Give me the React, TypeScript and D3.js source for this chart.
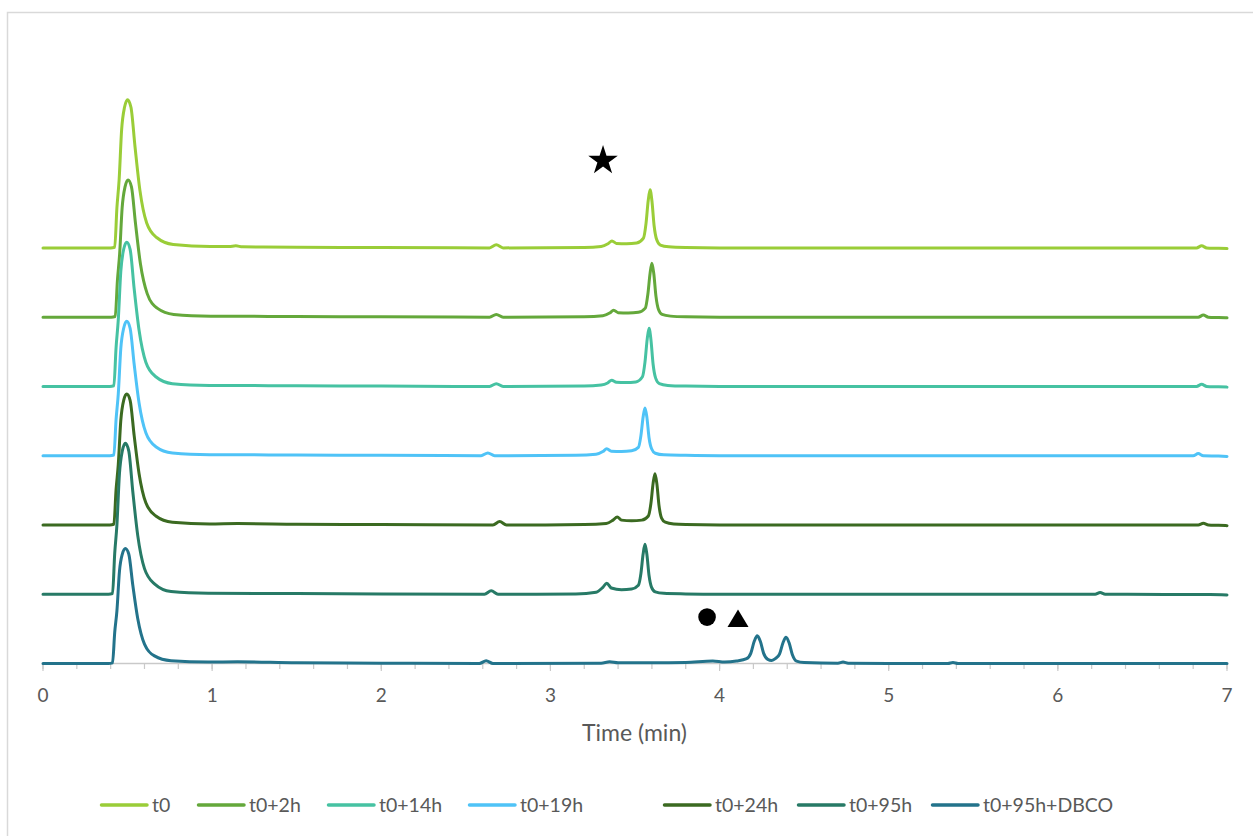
import React from 'react';
import * as d3 from 'd3';

// ---------- data (time in min, signal in arbitrary units above each trace's baseline) ----------
const seriesNames = ['t0', 't0+2h', 't0+14h', 't0+19h', 't0+24h', 't0+95h', 't0+95h+DBCO'];
const seriesColors = ['#9acd38', '#64a83b', '#46c2a2', '#4fc3f7', '#3b6a21', '#277a66', '#23738b'];
const seriesOffsets = [600, 500, 400, 300, 200, 100, 0];

const trace_t0: [number, number][] = [
  [0, 0], [0.2, 0], [0.4, 0], [0.424, 1], [0.437, 58], [0.45, 98], [0.465, 171], [0.482, 203], [0.5, 214],
  [0.52, 203], [0.544, 146], [0.573, 83], [0.613, 36], [0.672, 15], [0.77, 5], [0.99, 2], [1.1, 2], [1.14, 3],
  [1.18, 1.5], [1.5, 1], [2.0, 0.5], [2.64, 0], [2.68, 4.5], [2.72, 0], [3.2, 0.5], [3.3, 2], [3.34, 6],
  [3.364, 10], [3.39, 6.5], [3.45, 6], [3.51, 7], [3.55, 14], [3.565, 35], [3.578, 68], [3.589, 84],
  [3.6, 68], [3.613, 32], [3.628, 12], [3.65, 4], [3.7, 1.5], [3.8, 0.5], [4.0, 0], [5.0, 0], [6.0, 0],
  [6.82, 0], [6.85, 3], [6.88, 0], [6.95, -0.5], [7.0, -1],
];
const trace_t2h: [number, number][] = [
  [0, 0], [0.2, 0], [0.403, 0], [0.427, 1], [0.44, 53], [0.453, 91], [0.468, 158], [0.485, 188], [0.503, 198],
  [0.523, 188], [0.547, 135], [0.576, 77], [0.616, 34], [0.675, 13], [0.773, 4], [0.993, 1.5], [1.5, 1],
  [2.0, 0.5], [2.64, 0], [2.68, 4], [2.72, 0], [3.2, 0.5], [3.31, 2], [3.35, 6], [3.374, 10], [3.4, 6.5],
  [3.46, 6], [3.52, 7], [3.561, 13], [3.576, 33], [3.589, 63], [3.6, 78], [3.611, 63], [3.624, 30],
  [3.639, 11], [3.66, 4], [3.71, 1.5], [3.8, 0.5], [4.0, 0], [6.83, 0], [6.86, 3], [6.89, 0], [6.95, -0.5],
  [7.0, -1],
];
const trace_t14h: [number, number][] = [
  [0, 0], [0.2, 0], [0.395, 0], [0.419, 1], [0.432, 56], [0.445, 96], [0.46, 166], [0.477, 198], [0.495, 208],
  [0.515, 198], [0.539, 141], [0.568, 81], [0.608, 35], [0.667, 14], [0.765, 4], [0.985, 1.5], [1.5, 1],
  [2.0, 0.5], [2.64, 0], [2.68, 4], [2.72, 0], [3.2, 0.5], [3.3, 2], [3.338, 5], [3.362, 9], [3.39, 6],
  [3.445, 5.5], [3.505, 6.5], [3.544, 14], [3.559, 35], [3.572, 68], [3.583, 84], [3.594, 68], [3.607, 32],
  [3.622, 12], [3.644, 4], [3.694, 1.5], [3.8, 0.5], [4.0, 0], [6.82, 0], [6.85, 3], [6.88, 0], [6.95, -0.5],
  [7.0, -1],
];
const trace_t19h: [number, number][] = [
  [0, 0], [0.2, 0], [0.395, 0], [0.419, 1], [0.432, 52], [0.445, 89], [0.46, 155], [0.477, 184], [0.495, 194],
  [0.515, 184], [0.539, 132], [0.568, 76], [0.608, 33], [0.667, 13], [0.765, 4], [0.985, 1.5], [1.5, 1],
  [2.0, 0.5], [2.59, 0], [2.63, 4], [2.67, 0], [3.15, 0.5], [3.27, 2], [3.31, 6], [3.333, 10], [3.36, 6.5],
  [3.42, 6], [3.48, 7], [3.52, 12], [3.535, 29], [3.548, 56], [3.559, 69], [3.57, 56], [3.583, 26],
  [3.598, 10], [3.62, 3.5], [3.67, 1.2], [3.8, 0.5], [4.0, 0], [6.8, 0], [6.83, 3], [6.86, 0], [6.95, -0.5],
  [7.0, -1],
];
const trace_t24h: [number, number][] = [
  [0, 0], [0.2, 0], [0.395, 0], [0.419, 1], [0.432, 51], [0.445, 87], [0.46, 151], [0.477, 180], [0.495, 189],
  [0.515, 180], [0.539, 129], [0.568, 74], [0.608, 32], [0.667, 13], [0.765, 4], [0.985, 1.5], [1.15, 2],
  [1.5, 1], [2.0, 0.5], [2.66, 0], [2.7, 5], [2.74, 0], [3.2, 0.5], [3.33, 2], [3.37, 7], [3.395, 11.5],
  [3.42, 7], [3.48, 6], [3.54, 7], [3.579, 13], [3.594, 31], [3.607, 60], [3.618, 74], [3.629, 60],
  [3.642, 28], [3.657, 10], [3.679, 4], [3.729, 1.3], [3.8, 0.5], [4.0, 0], [6.83, 0], [6.86, 2.5], [6.89, 0],
  [6.95, -0.5], [7.0, -1],
];
const trace_t95h: [number, number][] = [
  [0, 0], [0.2, 0], [0.387, 0], [0.411, 1], [0.424, 59], [0.437, 100], [0.452, 174], [0.469, 207], [0.487, 218],
  [0.507, 207], [0.531, 148], [0.56, 85], [0.6, 37], [0.659, 15], [0.757, 4], [0.977, 1.5], [1.5, 1],
  [2.0, 0.5], [2.61, 0], [2.65, 5], [2.69, 0], [3.15, 0.5], [3.27, 3], [3.31, 10], [3.333, 16], [3.36, 9],
  [3.42, 6.5], [3.48, 7.5], [3.52, 13], [3.535, 30], [3.548, 58], [3.559, 72], [3.57, 58], [3.583, 27],
  [3.598, 10], [3.62, 3.5], [3.67, 1.3], [3.8, 0.5], [4.0, 0], [6.22, 0], [6.25, 2.5], [6.28, 0],
  [6.9, -0.5], [7.0, -1],
];
const trace_t95hDBCO: [number, number][] = [
  [0, 0], [0.2, 0], [0.387, 0], [0.411, 1], [0.424, 45], [0.437, 76], [0.452, 133], [0.469, 158], [0.487, 166],
  [0.507, 158], [0.531, 113], [0.56, 65], [0.6, 28], [0.659, 11], [0.757, 4], [0.977, 2], [1.15, 2.5],
  [1.5, 1], [2.0, 0.5], [2.58, 0], [2.62, 4], [2.66, 0], [3.3, 0.5], [3.35, 2.5], [3.4, 1], [3.6, 1],
  [3.8, 1.5], [3.96, 3.5], [4.03, 2], [4.1, 3.5], [4.16, 7], [4.185, 15], [4.205, 32], [4.223, 40],
  [4.241, 32], [4.26, 15], [4.285, 6], [4.308, 4.5], [4.33, 7], [4.355, 14], [4.375, 30], [4.393, 38],
  [4.411, 30], [4.43, 13], [4.455, 3.5], [4.5, 1.5], [4.7, 0.5], [4.73, 2], [4.76, 0.5], [5.0, 0],
  [5.35, 0], [5.38, 1.5], [5.41, 0], [7.0, 0],
];
const seriesData = [trace_t0, trace_t2h, trace_t14h, trace_t19h, trace_t24h, trace_t95h, trace_t95hDBCO];

const xMajorTicks = [0, 1, 2, 3, 4, 5, 6, 7];
const xMinorTicks = d3.range(0, 35.5, 1).map((i) => i / 5);
const xTitle = 'Time (min)';

// annotation symbols (time, signal)
const starMark: [number, number] = [3.311, 726];
const circleMark: [number, number] = [3.926, 67];
const triangleMark: [number, number] = [4.109, 65];

// ---------- layout ----------
const W = 1253;
const H = 836;
const FONT = 'Lato, "Open Sans", sans-serif';
const TEXT = '#595959';

export default function App() {
  const x = d3.scaleLinear().domain([0, 7]).range([43, 1227]);
  const y = d3.scaleLinear().domain([0, 900]).range([663.5, 40.1]);
  const axisY = y(0);

  const lineGen = (offset: number) =>
    d3
      .line<[number, number]>()
      .x((d) => x(d[0]))
      .y((d) => y(d[1] + offset))
      .curve(d3.curveMonotoneX);

  const legendX = [100, 197, 327, 468, 663, 797, 931];

  const triCx = x(triangleMark[0]);
  const triCy = y(triangleMark[1]);
  const triPath = `M${triCx},${triCy - 9} L${triCx + 10.5},${triCy + 8.5} L${triCx - 10.5},${triCy + 8.5} Z`;

  return (
    <svg
      width={W}
      height={H}
      style={{ position: 'absolute', left: 0, top: 0, background: '#fff' }}
      fontFamily={FONT}
    >
      <rect x={0} y={0} width={W} height={H} fill="#fff" />
      <rect x={7.5} y={12.5} width={W + 20} height={H + 20} fill="none" stroke="#d9d9d9" strokeWidth={1.5} />

      {/* axis */}
      <line x1={x(0)} x2={x(7)} y1={axisY} y2={axisY} stroke="#c9c9c9" strokeWidth={1.5} />
      {xMinorTicks.map((t) => (
        <line key={'mi' + t} x1={x(t)} x2={x(t)} y1={axisY} y2={axisY + 5.5} stroke="#c9c9c9" strokeWidth={1.2} />
      ))}
      {xMajorTicks.map((t) => (
        <line key={'ma' + t} x1={x(t)} x2={x(t)} y1={axisY} y2={axisY + 7.5} stroke="#c9c9c9" strokeWidth={1.2} />
      ))}
      {xMajorTicks.map((t) => (
        <text key={'tl' + t} x={x(t)} y={701.5} textAnchor="middle" fontSize={19} fill={TEXT}>
          {t}
        </text>
      ))}
      <text x={634.5} y={741} textAnchor="middle" fontSize={23} fill={TEXT}>
        {xTitle}
      </text>

      {/* traces */}
      {seriesData.map((d, i) => (
        <path
          key={seriesNames[i]}
          d={lineGen(seriesOffsets[i])(d) || ''}
          fill="none"
          stroke={seriesColors[i]}
          strokeWidth={3}
          strokeLinejoin="round"
          strokeLinecap="round"
        />
      ))}

      {/* annotations */}
      <path
        d={d3.symbol().type(d3.symbolStar).size(270)() || ''}
        transform={`translate(${x(starMark[0])},${y(starMark[1])})`}
        fill="#000"
      />
      <circle cx={x(circleMark[0])} cy={y(circleMark[1])} r={8.8} fill="#000" />
      <path d={triPath} fill="#000" />

      {/* legend */}
      {seriesNames.map((n, i) => (
        <g key={'lg' + n}>
          <line
            x1={legendX[i] + 1.5}
            x2={legendX[i] + 47}
            y1={805}
            y2={805}
            stroke={seriesColors[i]}
            strokeWidth={3.5}
            strokeLinecap="round"
          />
          <text x={legendX[i] + 52} y={812} fontSize={19.5} fill={TEXT}>
            {n}
          </text>
        </g>
      ))}
    </svg>
  );
}
